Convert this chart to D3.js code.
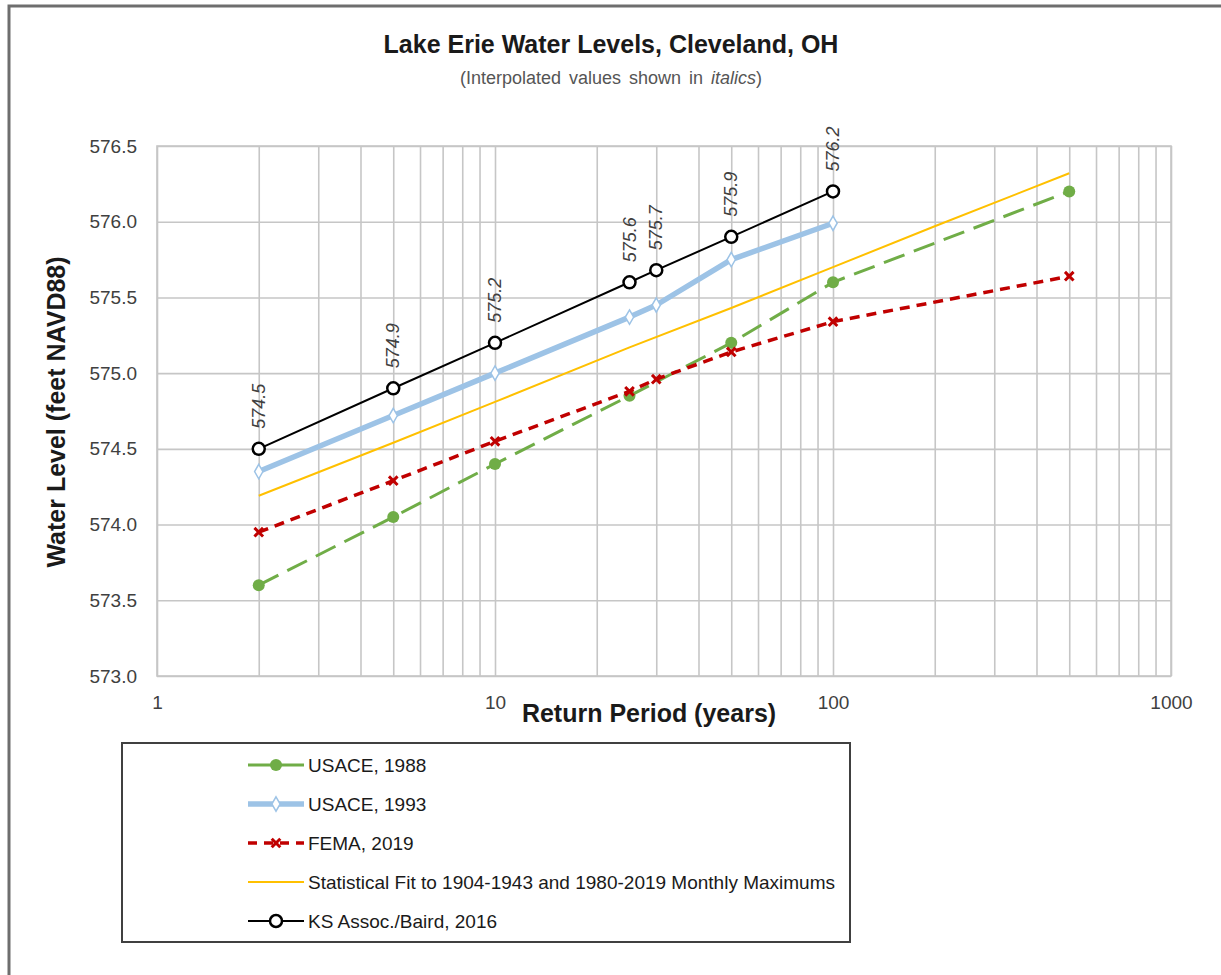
<!DOCTYPE html>
<html>
<head>
<meta charset="utf-8">
<script src="https://cdn.jsdelivr.net/npm/d3@7"></script>
<style>
  body { margin: 0; background: #fff; }
  svg { font-family: Arial, 'Liberation Sans', sans-serif; }
</style>
</head>
<body>
<svg width="1221" height="975"></svg>
<script>
// return periods (jaren) en waterstanden (feet NAVD88)
const usace88Years = [2, 5, 10, 25, 50, 100, 500]
const usace88Levels = [573.6, 574.05, 574.4, 574.85, 575.2, 575.6, 576.2]

const usace93Years = [2, 5, 10, 25, 30, 50, 100]
const usace93Levels = [574.35, 574.72, 575.0, 575.37, 575.45, 575.75, 575.99]

const femaYears = [2, 5, 10, 25, 30, 50, 100, 500]
const femaLevels = [573.95, 574.29, 574.55, 574.88, 574.96, 575.14, 575.34, 575.64]

const fitYears = [2, 5, 10, 25, 50, 100, 200, 500]
const fitLevels = [574.19, 574.54, 574.81, 575.17, 575.43, 575.70, 575.97, 576.32]

const ksYears = [2, 5, 10, 25, 30, 50, 100]
const ksLevels = [574.5, 574.9, 575.2, 575.6, 575.68, 575.9, 576.2]

const yTicks = [573.0, 573.5, 574.0, 574.5, 575.0, 575.5, 576.0, 576.5]
const xTicks = [1, 10, 100, 1000]

const seriesNames = ['USACE, 1988', 'USACE, 1993', 'FEMA, 2019',
  'Statistical Fit to 1904-1943 and 1980-2019 Monthly Maximums', 'KS Assoc./Baird, 2016']

const svg = d3.select('svg')
const width = +svg.attr('width')
const height = +svg.attr('height')

// opmaak per serie
const styles = {
  'USACE, 1988': {color: '#70ad47', width: 3, dash: '22,10', marker: 'dot'},
  'USACE, 1993': {color: '#9dc3e6', width: 5.5, dash: null, marker: 'diamond'},
  'FEMA, 2019': {color: '#c00000', width: 3.5, dash: '10,7', marker: 'x'},
  'Statistical Fit to 1904-1943 and 1980-2019 Monthly Maximums': {color: '#ffc000', width: 2, dash: null, marker: null},
  'KS Assoc./Baird, 2016': {color: '#000000', width: 2, dash: null, marker: 'circle'}
}

const zip = (xs, ys) => xs.map((x, i) => ({x: x, y: ys[i]}))

const series = [
  {name: seriesNames[0], values: zip(usace88Years, usace88Levels)},
  {name: seriesNames[1], values: zip(usace93Years, usace93Levels)},
  {name: seriesNames[2], values: zip(femaYears, femaLevels)},
  {name: seriesNames[3], values: zip(fitYears, fitLevels)},
  {name: seriesNames[4], values: zip(ksYears, ksLevels)}
]

const margin = {top: 146, right: 50, bottom: 299, left: 157}
const innerWidth = width - margin.left - margin.right
const innerHeight = height - margin.top - margin.bottom

const xscale = d3.scaleLog().domain([1, 1000]).range([0, innerWidth])
const yscale = d3.scaleLinear().domain([573, 576.5]).range([innerHeight, 0])

// buitenrand, alleen links en boven zichtbaar
svg.append('path')
  .attr('d', `M9,${height} V6 H${width}`)
  .attr('fill', 'none').attr('stroke', '#6e6e6e').attr('stroke-width', 3)

// titel
svg.append('text')
  .attr('x', 611).attr('y', 53)
  .attr('text-anchor', 'middle')
  .attr('font-size', 25).attr('font-weight', 'bold').attr('fill', '#1a1a1a')
  .text('Lake Erie Water Levels, Cleveland, OH')

const sub = svg.append('text')
  .attr('x', 611).attr('y', 84)
  .attr('text-anchor', 'middle')
  .attr('font-size', 18).attr('fill', '#555')
  .attr('word-spacing', 3)
sub.append('tspan').text('(Interpolated values shown in ')
sub.append('tspan').attr('font-style', 'italic').text('italics')
sub.append('tspan').text(')')

const g = svg.append('g')
  .attr('transform', `translate(${margin.left}, ${margin.top})`)

// gridlijnen
g.append('g').attr('class', 'grid')
  .call(d3.axisLeft(yscale).tickValues(yTicks).tickSize(-innerWidth).tickFormat(''))
g.append('g').attr('class', 'grid')
  .attr('transform', `translate(0, ${innerHeight})`)
  .call(d3.axisBottom(xscale).tickValues(xscale.ticks()).tickSize(-innerHeight).tickFormat(''))
g.selectAll('.grid .tick line').attr('stroke', '#c6c6c6').attr('stroke-width', 1.6)
g.selectAll('.grid .tick text').remove()
g.selectAll('.grid .domain').remove()

g.append('rect')
  .attr('width', innerWidth).attr('height', innerHeight)
  .attr('fill', 'none').attr('stroke', '#c6c6c6').attr('stroke-width', 1.6)

// as labels
const yAxis = g.append('g')
  .call(d3.axisLeft(yscale).tickValues(yTicks).tickFormat(d3.format('.1f')).tickSize(0).tickPadding(20))
yAxis.select('.domain').remove()
yAxis.selectAll('text').attr('font-size', 19).attr('fill', '#404040').attr('font-family', 'Arial, Liberation Sans, sans-serif')

const xAxis = g.append('g')
  .attr('transform', `translate(0, ${innerHeight})`)
  .call(d3.axisBottom(xscale).tickValues(xTicks).tickFormat(d3.format('d')).tickSize(0).tickPadding(20))
xAxis.select('.domain').remove()
xAxis.selectAll('text').attr('font-size', 19).attr('fill', '#404040').attr('font-family', 'Arial, Liberation Sans, sans-serif')

svg.append('text')
  .attr('x', 649).attr('y', 722)
  .attr('text-anchor', 'middle')
  .attr('font-size', 25).attr('font-weight', 'bold').attr('fill', '#1a1a1a')
  .text('Return Period (years)')

svg.append('text')
  .attr('transform', 'translate(65, 412) rotate(-90)')
  .attr('text-anchor', 'middle')
  .attr('font-size', 25).attr('font-weight', 'bold').attr('fill', '#1a1a1a')
  .text('Water Level (feet NAVD88)')

// lijnen
const line = d3.line()
  .x(d => xscale(d.x))
  .y(d => yscale(d.y))

function drawMarker(sel, type, st) {
  if (type === 'dot') {
    sel.append('circle').attr('r', 6).attr('fill', st.color)
  } else if (type === 'circle') {
    sel.append('circle').attr('r', 6).attr('fill', '#fff').attr('stroke', st.color).attr('stroke-width', 2.5)
  } else if (type === 'diamond') {
    sel.append('path').attr('d', d3.symbol(d3.symbolDiamond, 60)())
      .attr('fill', '#fff').attr('stroke', st.color).attr('stroke-width', 1.5)
  } else if (type === 'x') {
    sel.append('path').attr('d', d3.symbol(d3.symbolX, 50)())
      .attr('fill', 'none').attr('stroke', st.color).attr('stroke-width', 3)
  }
}

series.forEach(s => {
  const st = styles[s.name]
  g.append('path')
    .datum(s.values)
    .attr('d', line)
    .attr('fill', 'none')
    .attr('stroke', st.color)
    .attr('stroke-width', st.width)
    .attr('stroke-dasharray', st.dash)
    .attr('stroke-linejoin', 'round')

  if (st.marker) {
    g.selectAll(null).data(s.values)
      .enter()
      .append('g')
      .attr('transform', d => `translate(${xscale(d.x)}, ${yscale(d.y)})`)
      .each(function () { drawMarker(d3.select(this), st.marker, st) })
  }
})

// waardes bij KS Assoc./Baird
g.selectAll('.value-label').data(series[4].values)
  .enter()
  .append('text')
  .attr('class', 'value-label')
  .attr('transform', d => `translate(${xscale(d.x) + 6}, ${yscale(d.y) - 20}) rotate(-90)`)
  .attr('font-size', 18).attr('font-style', 'italic').attr('fill', '#404040')
  .text(d => d3.format('.1f')(d.y))

// legenda
svg.append('rect')
  .attr('x', 122).attr('y', 743)
  .attr('width', 728).attr('height', 199)
  .attr('fill', 'none').attr('stroke', '#404040').attr('stroke-width', 2)
const legend = svg.append('g')

series.forEach((s, i) => {
  const st = styles[s.name]
  const ly = 765 + i * 39
  const item = legend.append('g').attr('transform', `translate(248, ${ly})`)
  item.append('line')
    .attr('x1', 0).attr('x2', 56)
    .attr('stroke', st.color).attr('stroke-width', st.width)
    .attr('stroke-dasharray', st.marker === 'x' ? '9,7' : null)
  if (st.marker) {
    const m = item.append('g').attr('transform', 'translate(28, 0)')
    drawMarker(m, st.marker, st)
  }
  item.append('text')
    .attr('x', 60).attr('y', 7)
    .attr('font-size', 19).attr('fill', '#1a1a1a')
    .text(s.name)
})
</script>
</body>
</html>
